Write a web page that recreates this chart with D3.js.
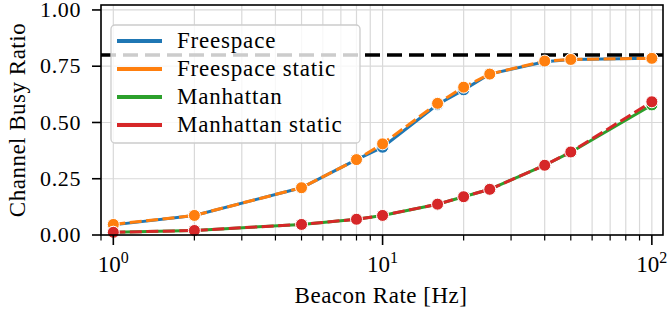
<!DOCTYPE html>
<html>
<head>
<meta charset="utf-8">
<script src="https://cdn.jsdelivr.net/npm/d3@7"></script>
<style>
  html, body { margin: 0; padding: 0; background: #fff; }
  svg { display: block; }
  svg text { font-family: "Liberation Serif", "Times New Roman", "DejaVu Serif", serif; }
</style>
</head>
<body>
<svg id="chart" width="670" height="313"></svg>
<script>
// beacon rates [Hz]
const rates = [1, 2, 5, 8, 10, 16, 20, 25, 40, 50, 100];

const freespace       = [0.045, 0.087, 0.21, 0.335, 0.39, 0.58, 0.645, 0.715, 0.77, 0.78, 0.785];
const freespaceStatic = [0.047, 0.087, 0.21, 0.335, 0.405, 0.585, 0.657, 0.715, 0.773, 0.78, 0.785];
const manhattan       = [0.012, 0.02, 0.047, 0.07, 0.087, 0.137, 0.17, 0.203, 0.31, 0.368, 0.578];
const manhattanStatic = [0.012, 0.02, 0.047, 0.07, 0.087, 0.137, 0.17, 0.203, 0.31, 0.369, 0.592];

const seriesNames = ['Freespace', 'Freespace static', 'Manhattan', 'Manhattan static'];
const seriesColors = ['#1f77b4', '#ff7f0e', '#2ca02c', '#d62728'];
const seriesDashed = [false, true, false, true];
const seriesValues = [freespace, freespaceStatic, manhattan, manhattanStatic];

const yTicks = [0, 0.25, 0.5, 0.75, 1.0];
const xMajor = [1, 10, 100];
const capacity = 0.8;

const svg = d3.select('#chart');
const pLeft = 101, pRight = 663, pTop = 5, pBottom = 235;
const FONT = 23;

const x = d3.scaleLog().domain([0.9, 110]).range([pLeft, pRight]);
const y = d3.scaleLinear().domain([0, 1.022]).range([pBottom, pTop]);

// minor ticks for the log axis
const xMinor = [];
for (let dec = 0.1; dec <= 100; dec *= 10) {
  for (let k = 2; k <= 9; k++) {
    const v = +(k * dec).toPrecision(3);
    if (v >= 0.9 && v <= 110) xMinor.push(v);
  }
}

// grid
const grid = svg.append('g').attr('class', 'grid')
  .attr('stroke', '#d9d9d9').attr('stroke-width', 1.2);
grid.selectAll('line.gx').data(xMajor.concat(xMinor)).enter().append('line')
  .attr('x1', d => x(d)).attr('x2', d => x(d))
  .attr('y1', pTop).attr('y2', pBottom);
grid.selectAll('line.gy').data(yTicks).enter().append('line')
  .attr('y1', d => y(d)).attr('y2', d => y(d))
  .attr('x1', pLeft).attr('x2', pRight);

// capacity line
svg.append('line')
  .attr('x1', pLeft).attr('x2', pRight)
  .attr('y1', y(capacity)).attr('y2', y(capacity))
  .attr('stroke', '#000').attr('stroke-width', 3.5)
  .attr('stroke-dasharray', '15,7');

// series
const line = d3.line().x(d => x(d[0])).y(d => y(d[1]));
seriesValues.forEach((vals, i) => {
  const pts = rates.map((r, j) => [r, vals[j]]);
  const g = svg.append('g');
  g.append('path').datum(pts)
    .attr('d', line)
    .attr('fill', 'none')
    .attr('stroke', seriesColors[i])
    .attr('stroke-width', 3)
    .attr('stroke-dasharray', seriesDashed[i] ? '12,4.5' : null);
  g.selectAll('circle').data(pts).enter().append('circle')
    .attr('cx', d => x(d[0])).attr('cy', d => y(d[1]))
    .attr('r', 6)
    .attr('fill', seriesColors[i])
    .attr('stroke', '#fff').attr('stroke-width', 1);
});

// axes frame
svg.append('rect')
  .attr('x', pLeft).attr('y', pTop)
  .attr('width', pRight - pLeft).attr('height', pBottom - pTop)
  .attr('fill', 'none').attr('stroke', '#000').attr('stroke-width', 1.6);

// y axis
const yAxis = svg.append('g');
yAxis.selectAll('line').data(yTicks).enter().append('line')
  .attr('x1', pLeft - 9).attr('x2', pLeft)
  .attr('y1', d => y(d)).attr('y2', d => y(d))
  .attr('stroke', '#000').attr('stroke-width', 1.6);
yAxis.selectAll('text').data(yTicks).enter().append('text')
  .attr('x', pLeft - 20).attr('y', d => y(d))
  .attr('dy', '0.33em')
  .attr('text-anchor', 'end')
  .attr('font-size', 22)
  .attr('letter-spacing', 0.6)
  .text(d => d3.format('.2f')(d));

// x axis
const xAxis = svg.append('g');
xAxis.selectAll('line.maj').data(xMajor).enter().append('line')
  .attr('x1', d => x(d)).attr('x2', d => x(d))
  .attr('y1', pBottom).attr('y2', pBottom + 10)
  .attr('stroke', '#000').attr('stroke-width', 1.6);
xAxis.selectAll('line.min').data(xMinor).enter().append('line')
  .attr('x1', d => x(d)).attr('x2', d => x(d))
  .attr('y1', pBottom).attr('y2', pBottom + 5.5)
  .attr('stroke', '#000').attr('stroke-width', 1.2);
const xl = xAxis.selectAll('text').data(xMajor).enter().append('text')
  .attr('x', d => x(d)).attr('y', 272)
  .attr('text-anchor', 'middle')
  .attr('font-size', FONT);
xl.append('tspan').text('10');
xl.append('tspan').attr('dy', -9).attr('font-size', 16)
  .text(d => Math.round(Math.log10(d)));

// axis titles
svg.append('text')
  .attr('x', (pLeft + pRight) / 2 - 1).attr('y', 303)
  .attr('text-anchor', 'middle')
  .attr('font-size', FONT)
  .attr('letter-spacing', 0.5)
  .text('Beacon Rate [Hz]');
svg.append('text')
  .attr('transform', `translate(25,${(pTop + pBottom) / 2}) rotate(-90)`)
  .attr('text-anchor', 'middle')
  .attr('font-size', FONT)
  .attr('letter-spacing', 0.5)
  .text('Channel Busy Ratio');

// legend
const legend = svg.append('g');
legend.append('rect')
  .attr('x', 111).attr('y', 25)
  .attr('width', 249).attr('height', 118)
  .attr('rx', 4)
  .attr('fill', '#fff').attr('fill-opacity', 0.8)
  .attr('stroke', '#cccccc').attr('stroke-width', 1.3);
const rows = legend.selectAll('g.row').data(seriesNames).enter().append('g')
  .attr('transform', (d, i) => `translate(0,${41 + i * 28})`);
rows.append('line')
  .attr('x1', 117).attr('x2', 162)
  .attr('stroke', (d, i) => seriesColors[i])
  .attr('stroke-width', 4);
rows.append('text')
  .attr('x', 177).attr('dy', '0.32em')
  .attr('font-size', FONT)
  .attr('letter-spacing', 0.8)
  .text(d => d);
</script>
</body>
</html>
